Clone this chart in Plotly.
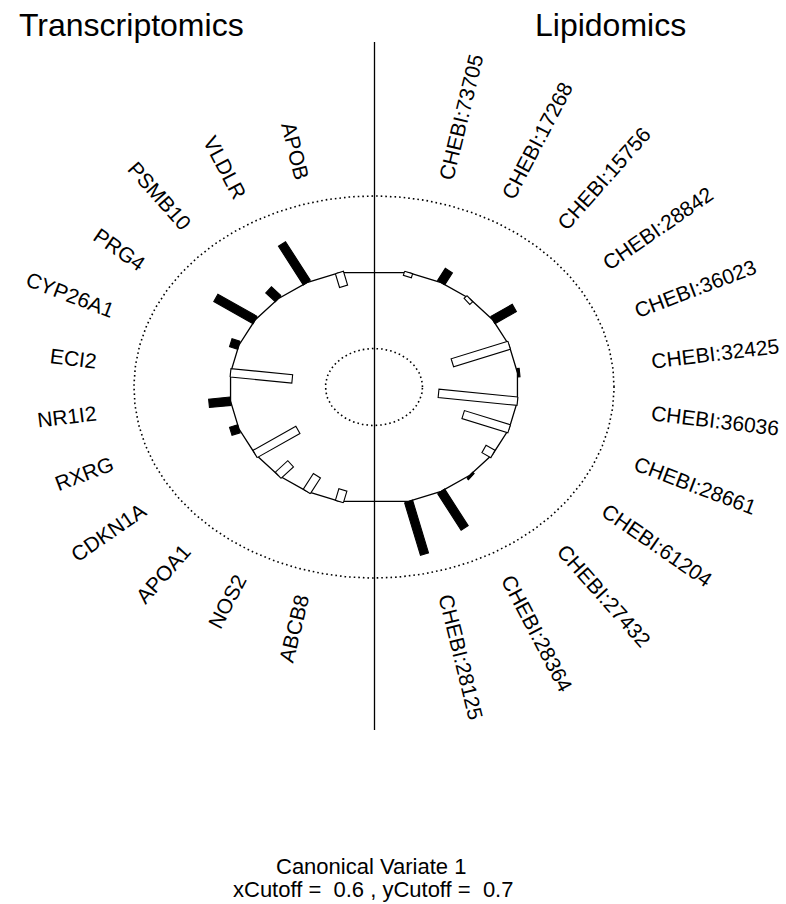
import numpy as np
import plotly.graph_objects as go

# ---------------- data ----------------
transcript_labels = ["APOB", "VLDLR", "PSMB10", "PRG4", "CYP26A1", "ECI2",
                     "NR1I2", "RXRG", "CDKN1A", "APOA1", "NOS2", "ABCB8"]
transcript_values = [-0.12, 0.37, 0.10, 0.33, 0.06, -0.43,
                     0.15, 0.06, -0.36, -0.13, -0.15, -0.10]

lipid_labels = ["CHEBI:73705", "CHEBI:17268", "CHEBI:15756", "CHEBI:28842",
                "CHEBI:36023", "CHEBI:32425", "CHEBI:36036", "CHEBI:28661",
                "CHEBI:61204", "CHEBI:27432", "CHEBI:28364", "CHEBI:28125"]
lipid_values = [-0.035, 0.115, -0.03, 0.18, -0.42, 0.015,
                -0.55, -0.34, -0.075, 0.015, 0.35, 0.46]

block_titles = ["Transcriptomics", "Lipidomics"]
x_title = "Canonical Variate 1"
cutoff_text = "xCutoff =  0.6 , yCutoff =  0.7"

# ---------------- geometry (pixel-like data space) ----------------
W, H = 786, 904
CX, CY = 374.0, 387.0
RX, RY = 144.5, 117.9          # solid circle
OUT_RX, OUT_RY = 240.0, 191.0  # outer dotted ring
IN_RX, IN_RY = 48.5, 38.5      # inner dotted ring
LAB_A, LAB_B = 272.0, 214.0    # label anchor ellipse
LAB_DX = 7.0                   # extra horizontal offset of labels
BAR_HALF = 4.2
FONT = "Liberation Sans, Arial, sans-serif"
LAB_SIZE = 21

n = len(transcript_labels)
step = 180.0 / (n + 1)
left_ang = np.array([90 + step * (k + 1) for k in range(n)])
right_ang = np.array([90 - step * (k + 1) for k in range(len(lipid_labels))])

CW = {c: 0.667 for c in "ABEKPSVXY"}
CW.update({c: 0.722 for c in "CDHNR"})
CW.update({"F": 0.611, "T": 0.611, "G": 0.778, "O": 0.778, "I": 0.278,
           "L": 0.556, "M": 0.833, ":": 0.278})
CW.update({d: 0.556 for d in "0123456789"})


def text_w(s, size):
    return sum(CW.get(c, 0.6) for c in s) * size


def pt(theta_deg, rx, ry, scale=1.0):
    t = np.deg2rad(theta_deg)
    return CX + rx * scale * np.cos(t), CY - ry * scale * np.sin(t)


fig = go.Figure()

# rings
tt = np.linspace(0, 360, 361)
for rx, ry in [(OUT_RX, OUT_RY), (IN_RX, IN_RY)]:
    xs, ys = pt(tt, rx, ry)
    fig.add_trace(go.Scatter(x=xs, y=ys, mode="lines",
                             line=dict(color="black", width=1.6, dash="1.6px,3px"),
                             hoverinfo="skip", showlegend=False))

# solid circle: polygon through the variable angles
all_ang = np.concatenate([left_ang, right_ang])
order = np.argsort(all_ang % 360)
poly = np.append(all_ang[order], all_ang[order][0])
px_, py_ = pt(poly, RX, RY)
fig.add_trace(go.Scatter(x=px_, y=py_, mode="lines",
                         line=dict(color="black", width=1.3),
                         hoverinfo="skip", showlegend=False))

# vertical separator
fig.add_trace(go.Scatter(x=[CX + 0.5, CX + 0.5], y=[42, 730], mode="lines",
                         line=dict(color="black", width=1.3),
                         hoverinfo="skip", showlegend=False))

# bars
for angs, vals in [(left_ang, transcript_values), (right_ang, lipid_values)]:
    for a, v in zip(angs, vals):
        bx, by = pt(a, RX, RY)
        ex, ey = pt(a, RX, RY, 1 + v)
        dx, dy = ex - bx, ey - by
        L = np.hypot(dx, dy)
        if L < 1e-6:
            continue
        nx, ny = -dy / L * BAR_HALF, dx / L * BAR_HALF
        xs = [bx + nx, ex + nx, ex - nx, bx - nx, bx + nx]
        ys = [by + ny, ey + ny, ey - ny, by - ny, by + ny]
        fill = "black" if v > 0 else "white"
        fig.add_trace(go.Scatter(x=xs, y=ys, mode="lines", fill="toself",
                                 fillcolor=fill,
                                 line=dict(color="black", width=1.1),
                                 hoverinfo="skip", showlegend=False))

annotations = []
# right labels: start at anchor, read outward
for a, lab in zip(right_ang, lipid_labels):
    sx, sy = pt(a, LAB_A, LAB_B)
    sx += LAB_DX
    t = np.deg2rad(a)
    d = np.array([np.cos(t), -np.sin(t)])
    w = text_w(lab, LAB_SIZE)
    cx_, cy_ = sx + d[0] * w / 2, sy + d[1] * w / 2
    annotations.append(dict(x=cx_, y=cy_, xref="x", yref="y", text=lab,
                            showarrow=False, textangle=-a,
                            xanchor="center", yanchor="middle",
                            font=dict(family=FONT, size=LAB_SIZE, color="black")))
# left labels: end at anchor, read inward
for a, lab in zip(left_ang, transcript_labels):
    ex_, ey_ = pt(a, LAB_A, LAB_B)
    ex_ -= LAB_DX
    t = np.deg2rad(a)
    d = np.array([-np.cos(t), np.sin(t)])
    w = text_w(lab, LAB_SIZE)
    cx_, cy_ = ex_ - d[0] * w / 2, ey_ - d[1] * w / 2
    annotations.append(dict(x=cx_, y=cy_, xref="x", yref="y", text=lab,
                            showarrow=False, textangle=180 - a,
                            xanchor="center", yanchor="middle",
                            font=dict(family=FONT, size=LAB_SIZE, color="black")))

# block titles
annotations.append(dict(x=131.5, y=25, xref="x", yref="y", text=block_titles[0],
                        showarrow=False, xanchor="center", yanchor="middle",
                        font=dict(family=FONT, size=32, color="black")))
annotations.append(dict(x=610, y=25, xref="x", yref="y", text=block_titles[1],
                        showarrow=False, xanchor="center", yanchor="middle",
                        font=dict(family=FONT, size=32, color="black")))
# axis caption
annotations.append(dict(x=371, y=866, xref="x", yref="y", text=x_title,
                        showarrow=False, xanchor="center", yanchor="middle",
                        font=dict(family=FONT, size=22, color="black")))
annotations.append(dict(x=373, y=889, xref="x", yref="y", text=cutoff_text,
                        showarrow=False, xanchor="center", yanchor="middle",
                        font=dict(family=FONT, size=22, color="black")))

fig.update_layout(
    width=W, height=H,
    margin=dict(l=0, r=0, t=0, b=0),
    paper_bgcolor="white", plot_bgcolor="white",
    xaxis=dict(range=[0, W], visible=False, fixedrange=True),
    yaxis=dict(range=[H, 0], visible=False, fixedrange=True),
    annotations=annotations,
    showlegend=False,
)

fig.write_html("out.html", config={"displayModeBar": False},
               post_script="document.body.style.margin='0';")
